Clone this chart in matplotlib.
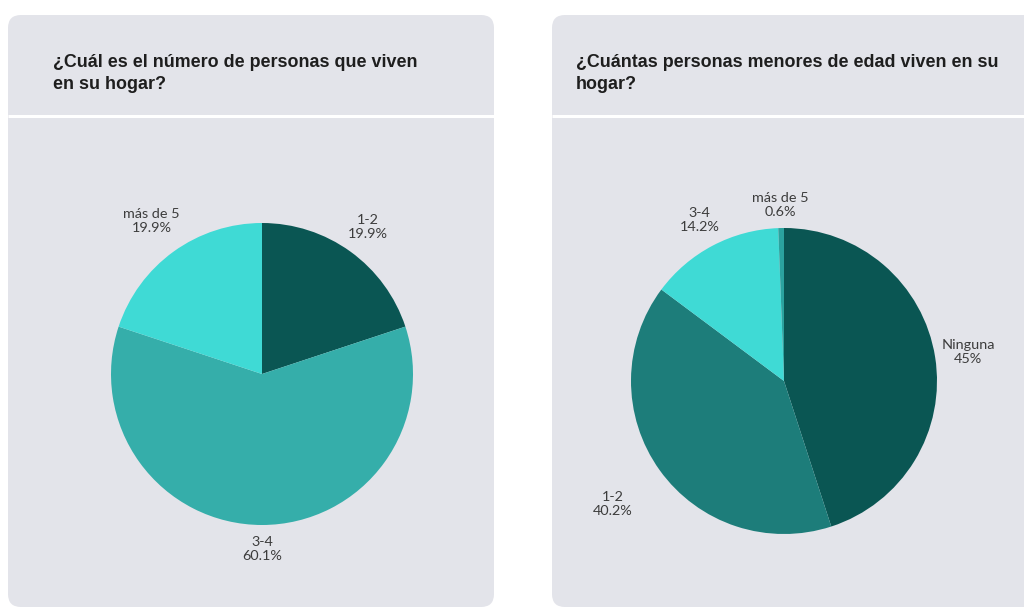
import numpy as np
import matplotlib
matplotlib.use("Agg")
import matplotlib.pyplot as plt
from matplotlib.patches import FancyBboxPatch

# Survey answers
hogar_labels = ["1-2", "3-4", "más de 5"]
hogar_values = [19.9, 60.1, 19.9]
hogar_pct = ["19.9%", "60.1%", "19.9%"]

menores_labels = ["Ninguna", "1-2", "3-4", "más de 5"]
menores_values = [45.0, 40.2, 14.2, 0.6]
menores_pct = ["45%", "40.2%", "14.2%", "0.6%"]

titles = ["¿Cuál es el número de personas que viven\nen su hogar?",
          "¿Cuántas personas menores de edad viven en su\nhogar?"]

W, H = 1024, 608
fig = plt.figure(figsize=(W / 100, H / 100), dpi=100)
fig.patch.set_facecolor("white")

# Pixel-space overlay for the cards
bg = fig.add_axes([0, 0, 1, 1])
bg.set_xlim(0, W)
bg.set_ylim(H, 0)
bg.axis("off")

PANEL = "#E3E4EA"
cards = [(8, 15, 486, 592), (552, 15, 490, 592)]
for (x, y, w, h) in cards:
    bg.add_patch(FancyBboxPatch((x, y), w, h, boxstyle="round,pad=0,rounding_size=13",
                                fc=PANEL, ec="none", zorder=0))
    bg.plot([x, x + w], [116, 116], color="white", lw=2.2, zorder=1,
            solid_capstyle="butt")

title_x = [53, 576]
for tx, t in zip(title_x, titles):
    bg.text(tx, 73.5, t, fontsize=12.9, fontweight="bold", family="Liberation Sans",
            color="#1E1E1E", ha="left", va="center", linespacing=1.38)

TXT = "#3C3C3C"
LABEL_FONT = "Lato"


def draw_pie(cx, cy, r, values, labels, pcts, colors, dists):
    ax = fig.add_axes([(cx - r) / W, 1 - (cy + r) / H, 2 * r / W, 2 * r / H])
    wedges, _ = ax.pie(values, colors=colors, startangle=90, counterclock=False,
                       radius=1.0, wedgeprops=dict(linewidth=0.4, edgecolor="none"))
    ax.set_xlim(-1, 1)
    ax.set_ylim(-1, 1)
    ax.set_aspect("equal")
    ax.axis("off")
    for wdg, lab, pct, d in zip(wedges, labels, pcts, dists):
        mid = np.deg2rad((wdg.theta1 + wdg.theta2) / 2)
        ax.text(d * np.cos(mid), d * np.sin(mid), f"{lab}\n{pct}",
                ha="center", va="center", fontsize=10.4, family=LABEL_FONT,
                color=TXT, linespacing=1.2, clip_on=False)
    return ax


draw_pie(262, 374, 151, hogar_values, hogar_labels, hogar_pct,
         ["#0A5653", "#35AEAA", "#3FDAD5"], [1.20, 1.16, 1.25])

draw_pie(784, 381, 153, menores_values, menores_labels, menores_pct,
         ["#0A5653", "#1D7D7A", "#3FDAD5", "#2BA39F"], [1.22, 1.38, 1.19, 1.15])

fig.savefig("out.png", dpi=100, facecolor="white")
